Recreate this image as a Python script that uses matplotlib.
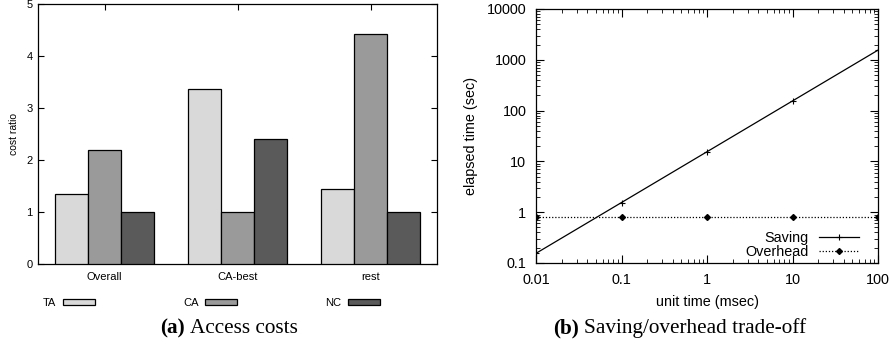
import matplotlib
matplotlib.use("Agg")
import matplotlib.pyplot as plt
from matplotlib.patches import Patch
import numpy as np

# ---------------- data ----------------
categories = ["Overall", "CA-best", "rest"]
ta_vals = [1.35, 3.37, 1.45]
ca_vals = [2.20, 1.00, 4.42]
nc_vals = [1.00, 2.40, 1.00]
series_names = ["TA", "CA", "NC"]
bar_colors = ["#d9d9d9", "#9a9a9a", "#5a5a5a"]
bar_yticks = [0, 1, 2, 3, 4, 5]

unit_time = [0.01, 0.1, 1, 10, 100]
saving = [0.155, 1.55, 15.5, 155, 1550]
overhead = [0.79, 0.79, 0.79, 0.79, 0.79]
xtick_vals = [0.01, 0.1, 1, 10, 100]
xtick_labels = ["0.01", "0.1", "1", "10", "100"]
ytick_vals = [0.1, 1, 10, 100, 1000, 10000]
ytick_labels = ["0.1", "1", "10", "100", "1000", "10000"]

W, H = 891, 347
plt.rcParams['font.family'] = ['Liberation Sans', 'DejaVu Sans']
fig = plt.figure(figsize=(W / 100, H / 100), dpi=100)

def px_axes(x0, y0, x1, y1):
    return fig.add_axes([x0 / W, (H - y1) / H, (x1 - x0) / W, (y1 - y0) / H])

# ---------------- left: bar chart ----------------
ax1 = px_axes(38, 4.3, 437, 264)
x = np.arange(len(categories))
bw = 0.25
for i, (vals, name, col) in enumerate(zip([ta_vals, ca_vals, nc_vals], series_names, bar_colors)):
    ax1.bar(x + (i - 1) * bw, vals, width=bw, color=col, edgecolor="black",
            linewidth=0.9, label=name, zorder=3)
ax1.set_xlim(-0.5, 2.5)
ax1.set_ylim(0, 5)
ax1.set_xticks(x)
ax1.set_xticklabels(categories)
ax1.set_yticks(bar_yticks)
ax1.tick_params(axis='both', direction='in', labelsize=8, length=4, width=0.8)
ax1.tick_params(axis='x', top=True, bottom=False, pad=6)
ax1.tick_params(axis='y', right=True, pad=4)
ax1.set_ylabel("cost ratio", fontsize=7.5, labelpad=5)
for s in ax1.spines.values():
    s.set_linewidth(0.9)

handles = [Patch(facecolor=c, edgecolor="black", linewidth=0.9) for c in bar_colors]
fig.legend(handles, series_names, ncol=3, markerfirst=False, frameon=False,
           fontsize=8, handlelength=2.9, handleheight=0.36, handletextpad=0.6,
           columnspacing=7.9, borderpad=0, borderaxespad=0,
           loc='center left', bbox_to_anchor=(43 / W, (H - 303) / H),
           bbox_transform=fig.transFigure)

# ---------------- right: log-log line chart ----------------
ax2 = px_axes(536, 9, 878, 263)
l1, = ax2.plot(unit_time, saving, color="black", linewidth=0.9, marker='+',
               markersize=5, markeredgewidth=0.8, label="Saving")
l2, = ax2.plot(unit_time, overhead, color="black", linewidth=0.9, linestyle=(0, (1, 1.5)),
               marker='D', markersize=3, label="Overhead")
ax2.set_xscale('log')
ax2.set_yscale('log')
ax2.set_xlim(0.01, 100)
ax2.set_ylim(0.1, 10000)
ax2.set_xticks(xtick_vals)
ax2.set_xticklabels(xtick_labels)
ax2.set_yticks(ytick_vals)
ax2.set_yticklabels(ytick_labels)
ax2.tick_params(axis='both', which='both', direction='in', top=True, right=True, labelsize=10.4)
ax2.tick_params(which='major', length=6, width=0.8)
ax2.tick_params(which='minor', length=3, width=0.6)
ax2.tick_params(axis='x', pad=7)
ax2.tick_params(axis='y', pad=7)
ax2.set_xlabel("unit time (msec)", fontsize=10.4, labelpad=6)
ax2.set_ylabel("elapsed time (sec)", fontsize=10.4, labelpad=6)
for s in ax2.spines.values():
    s.set_linewidth(0.9)

leg1 = ax2.legend([l1], ["Saving"], loc='lower right', frameon=False, fontsize=10.4,
                  markerfirst=False, handlelength=2.8, handletextpad=0.7, numpoints=1,
                  borderpad=0, borderaxespad=0,
                  bbox_to_anchor=(1 - 19 / 342, 18 / 254))
ax2.add_artist(leg1)
ax2.legend([l2], ["Overhead"], loc='lower right', frameon=False, fontsize=10.4,
           markerfirst=False, handlelength=2.8, handletextpad=0.7, numpoints=1,
           borderpad=0, borderaxespad=0,
           bbox_to_anchor=(1 - 19 / 342, 4 / 254))

# ---------------- captions ----------------
serif = ['Liberation Serif', 'DejaVu Serif']
cy = (H - 333) / H
renderer = fig.canvas.get_renderer()
for bold, rest, x0 in [("(a)", "Access costs", 160), ("(b)", "Saving/overhead trade-off", 553)]:
    tb = fig.text(x0 / W, cy, bold, family=serif, fontweight='bold', fontsize=15.3, va='baseline')
    ext = tb.get_window_extent(renderer)
    fig.text((ext.x1 + 5.5) / W, cy, rest, family=serif, fontsize=15.3, va='baseline')

fig.savefig("out.png", dpi=100)
